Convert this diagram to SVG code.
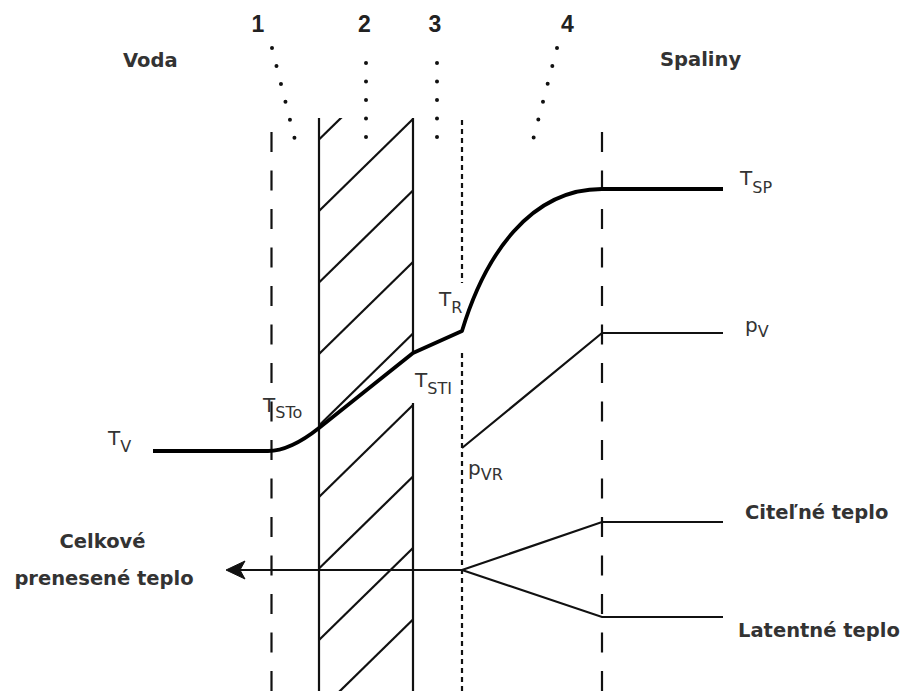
<svg xmlns="http://www.w3.org/2000/svg" width="901" height="691" viewBox="0 0 901 691">
<style>
.bg{fill:#ffffff}
.thin{fill:none;stroke:#111;stroke-width:2.2}
.thick{fill:none;stroke:#000;stroke-width:3.8;stroke-linejoin:round;stroke-linecap:butt}
.dash{fill:none;stroke:#111;stroke-width:2.2;stroke-dasharray:20 18.5}
.dot{fill:none;stroke:#111;stroke-width:2.2;stroke-dasharray:5 4}
.leader{fill:none;stroke:#111;stroke-width:4;stroke-linecap:round;stroke-dasharray:0 18.5}
.num{font-family:"Liberation Sans",Arial,sans-serif;font-weight:bold;font-size:23px;fill:#222;text-anchor:middle}
.head{font-family:"DejaVu Sans",Verdana,sans-serif;font-weight:bold;font-size:19.5px;fill:#333}
.lab{font-family:"DejaVu Sans",Verdana,sans-serif;font-size:20px;fill:#333}
.sub{font-size:16px}
</style>
<defs>
<clipPath id="wallclip"><rect x="319" y="118" width="94" height="573"/></clipPath>
</defs>
<rect class="bg" x="0" y="0" width="901" height="691"/>

<g id="zone-labels">
<text class="num" x="258" y="32">1</text>
<text class="num" x="364.5" y="32">2</text>
<text class="num" x="435" y="32">3</text>
<text class="num" x="567.5" y="32">4</text>
<line class="leader" x1="272" y1="48" x2="295" y2="140"/>
<line class="leader" x1="366" y1="63" x2="366" y2="140"/>
<line class="leader" x1="437" y1="63" x2="437" y2="140"/>
<line class="leader" x1="557" y1="48" x2="533" y2="140"/>
<text class="head" x="123" y="67">Voda</text>
<text class="head" x="660" y="66">Spaliny</text>
</g>

<g id="boundaries">
<line class="dash" x1="271.5" y1="132" x2="271.5" y2="691"/>
<line class="dash" x1="602" y1="132" x2="602" y2="691"/>
<line class="dot" x1="462" y1="120" x2="462" y2="283"/>
<line class="dot" x1="462" y1="353" x2="462" y2="691"/>
</g>

<g id="wall">
<line class="thin" x1="319" y1="118" x2="319" y2="691"/>
<line class="thin" x1="413" y1="118" x2="413" y2="353"/>
<line class="thin" x1="413" y1="403" x2="413" y2="691"/>
<g clip-path="url(#wallclip)">
<line class="thin" x1="319" y1="139.5" x2="413" y2="47.5"/>
<line class="thin" x1="319" y1="211" x2="413" y2="119"/>
<line class="thin" x1="319" y1="282.5" x2="413" y2="190.5"/>
<line class="thin" x1="319" y1="354" x2="413" y2="262"/>
<line class="thin" x1="319" y1="425.5" x2="413" y2="333.5"/>
<line class="thin" x1="319" y1="497" x2="413" y2="405"/>
<line class="thin" x1="319" y1="568.5" x2="413" y2="476.5"/>
<line class="thin" x1="319" y1="640" x2="413" y2="548"/>
<line class="thin" x1="319" y1="711.5" x2="413" y2="619.5"/>
</g>
</g>

<g id="temperature-profile">
<path class="thick" d="M153,451 L268,451 Q290,451 319,428 L413,353 L462,331 C485,255 530,189 602,189 L723,189"/>
<text class="lab" x="108" y="445">T<tspan class="sub" dy="7">V</tspan></text>
<text class="lab" x="263" y="412">T<tspan class="sub" dy="6">STo</tspan></text>
<text class="lab" x="415" y="387">T<tspan class="sub" dy="7">STI</tspan></text>
<text class="lab" x="439" y="306">T<tspan class="sub" dy="7">R</tspan></text>
<text class="lab" x="740" y="185">T<tspan class="sub" dy="8">SP</tspan></text>
</g>

<g id="vapour-pressure">
<path class="thin" d="M462,448 L602,333 L723,333"/>
<text class="lab" x="745" y="332">p<tspan class="sub" dy="5">V</tspan></text>
<text class="lab" x="468" y="475">p<tspan class="sub" dy="5">VR</tspan></text>
</g>

<g id="connectors">
<path class="thin" d="M462,570 L602,522 L723,522"/>
<path class="thin" d="M462,570 L602,617 L723,617"/>
<line class="thin" x1="462" y1="570" x2="240" y2="570"/>
<path d="M226,570 L245,561 L240,570 L245,579 Z" fill="#111" stroke="#111" stroke-width="1" stroke-linejoin="miter"/>
</g>

<g id="heat-labels">
<text class="head" x="745" y="519">Citeľné teplo</text>
<text class="head" x="738" y="637">Latentné teplo</text>
<text class="head" x="102.5" y="548" text-anchor="middle">Celkové</text>
<text class="head" x="104" y="585" text-anchor="middle">prenesené teplo</text>
</g>
</svg>
